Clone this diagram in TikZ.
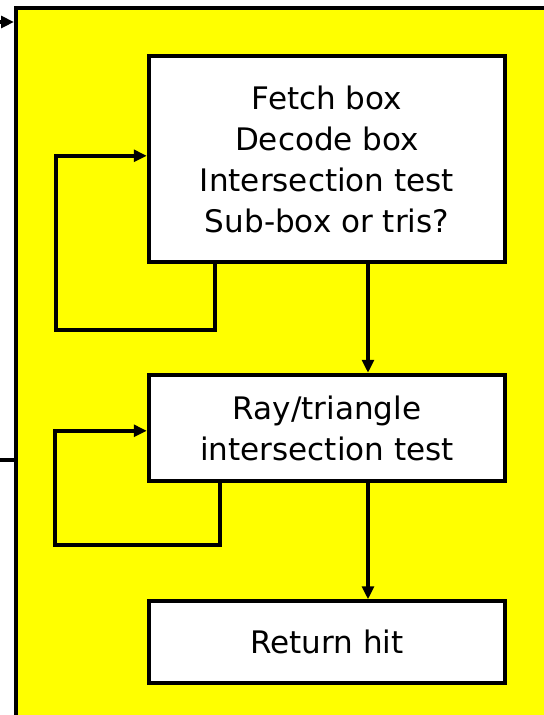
\documentclass[tikz,border=0pt]{standalone}
\usepackage{fontspec}
\setmainfont{DejaVu Sans}
\usetikzlibrary{arrows.meta,calc}

\definecolor{unitfill}{RGB}{255,255,0}

\tikzset{
  block/.style={draw, fill=white, line width=3.2pt, minimum width=10.7cm,
    align=center, font=\fontsize{26.5}{35}\selectfont},
  flow/.style={line width=3.2pt, -{Triangle[length=11pt,width=10pt]}},
  wire/.style={line width=3.2pt}
}

\begin{document}
\begin{tikzpicture}[x=0.03cm, y=-0.03cm]
  \path[use as bounding box] (0,0) rectangle (544,715);
  \clip (0,0) rectangle (544,715);

  % the unit itself, runs off the page to the right and bottom
  \node[draw, fill=unitfill, line width=3.2pt, minimum width=17.6cm,
    minimum height=22.5cm, anchor=north west] (unit) at (14,6) {};

  \node[block, minimum height=6.2cm] (fetch) at (327,159)
    {Fetch box\\Decode box\\Intersection test\\Sub-box or tris?};
  \node[block, minimum height=3.2cm] (ray) at (327,428)
    {Ray/triangle\\intersection test};
  \node[block, minimum height=2.45cm] (hit) at (327,642) {Return hit};

  % straight down the middle
  \draw[flow] ($(fetch.south)+(41,0)$) -- ($(ray.north)+(41,0)$);
  \draw[flow] ($(ray.south)+(41,0)$) -- ($(hit.north)+(41,0)$);

  % loops back into each stage
  \coordinate (l1) at (56,330);
  \coordinate (l2) at (55,545);
  \draw[flow] ($(fetch.south west)+(68,0)$) |- (l1) |- ($(fetch.north west)+(0,102)$);
  \draw[flow] ($(ray.south west)+(73,0)$) |- (l2) |- ($(ray.north west)+(0,58)$);

  % in and out on the left
  \coordinate (in) at (0,22);
  \coordinate (out) at (0,460);
  \draw[flow] (in) -- (in -| unit.west);
  \draw[wire] (out) -- (out -| unit.west);
\end{tikzpicture}
\end{document}
